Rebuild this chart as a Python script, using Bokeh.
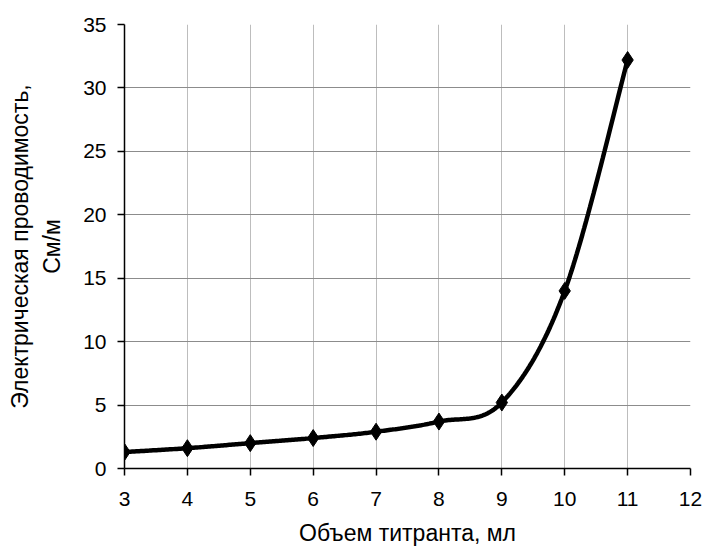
import numpy as np
from bokeh.plotting import figure
from bokeh.models import Title, FixedTicker, Range1d
from bokeh.embed import file_html
from bokeh.resources import INLINE

volume = [3, 4, 5, 6, 7, 8, 9, 10, 11]
conductivity = [1.3, 1.6, 2.0, 2.4, 2.9, 3.7, 5.2, 14.0, 32.2]
x_ticks = [3, 4, 5, 6, 7, 8, 9, 10, 11, 12]
y_ticks = [0, 5, 10, 15, 20, 25, 30, 35]

FONT = "Liberation Sans"

def catmull_rom(xs, ys, n=40):
    P = np.column_stack([xs, ys]).astype(float)
    P = np.vstack([P[0], P, P[-1]])
    out = []
    for i in range(1, len(P) - 2):
        p0, p1, p2, p3 = P[i - 1], P[i], P[i + 1], P[i + 2]
        c1 = p1 + (p2 - p0) / 6.0
        c2 = p2 - (p3 - p1) / 6.0
        t = np.linspace(0, 1, n)[:, None]
        seg = ((1 - t) ** 3) * p1 + 3 * ((1 - t) ** 2) * t * c1 + 3 * (1 - t) * t ** 2 * c2 + t ** 3 * p2
        out.append(seg if i == 1 else seg[1:])
    s = np.vstack(out)
    return s[:, 0], s[:, 1]

p = figure(width=705, height=554, output_backend="svg", toolbar_location=None,
           x_range=Range1d(3, 12), y_range=Range1d(0, 35),
           min_border_left=124, min_border_right=15, min_border_top=24, min_border_bottom=86)
p.outline_line_color = None
p.background_fill_color = "white"

sx, sy = catmull_rom(volume, conductivity)
p.line(sx, sy, line_color="black", line_width=4.5)
p.scatter(volume, conductivity, marker="diamond", size=17, fill_color="black", line_color="black")

for ax in (p.xaxis, p.yaxis):
    ax.axis_line_color = "black"
    ax.axis_line_width = 1.5
    ax.major_tick_line_color = "black"
    ax.major_tick_line_width = 1.5
    ax.major_tick_out = 7
    ax.major_tick_in = 0
    ax.minor_tick_line_color = None
    ax.major_label_text_font = FONT
    ax.major_label_text_font_size = "21px"
    ax.major_label_text_color = "black"
    ax.axis_label_text_font = FONT
    ax.axis_label_text_font_size = "23px"
    ax.axis_label_text_font_style = "normal"
    ax.axis_label_text_color = "black"

p.xaxis.ticker = FixedTicker(ticks=x_ticks)
p.yaxis.ticker = FixedTicker(ticks=y_ticks)
p.xaxis.major_label_standoff = 16
p.yaxis.major_label_standoff = 11
p.xaxis.axis_label = "Объем титранта, мл"
p.xaxis.axis_label_standoff = 11
p.yaxis.axis_label = "См/м"
p.yaxis.axis_label_standoff = 15

p.xgrid.grid_line_color = "#bdbdbd"
p.ygrid.grid_line_color = "#8c8c8c"
p.xgrid.ticker = FixedTicker(ticks=x_ticks)
p.ygrid.ticker = FixedTicker(ticks=y_ticks)

t2 = Title(text="Электрическая проводимость,", align="center", text_font=FONT,
           text_font_size="23px", text_font_style="normal", text_color="black", standoff=7)
p.add_layout(t2, "left")

open("out.html", "w").write(file_html(p, INLINE))
